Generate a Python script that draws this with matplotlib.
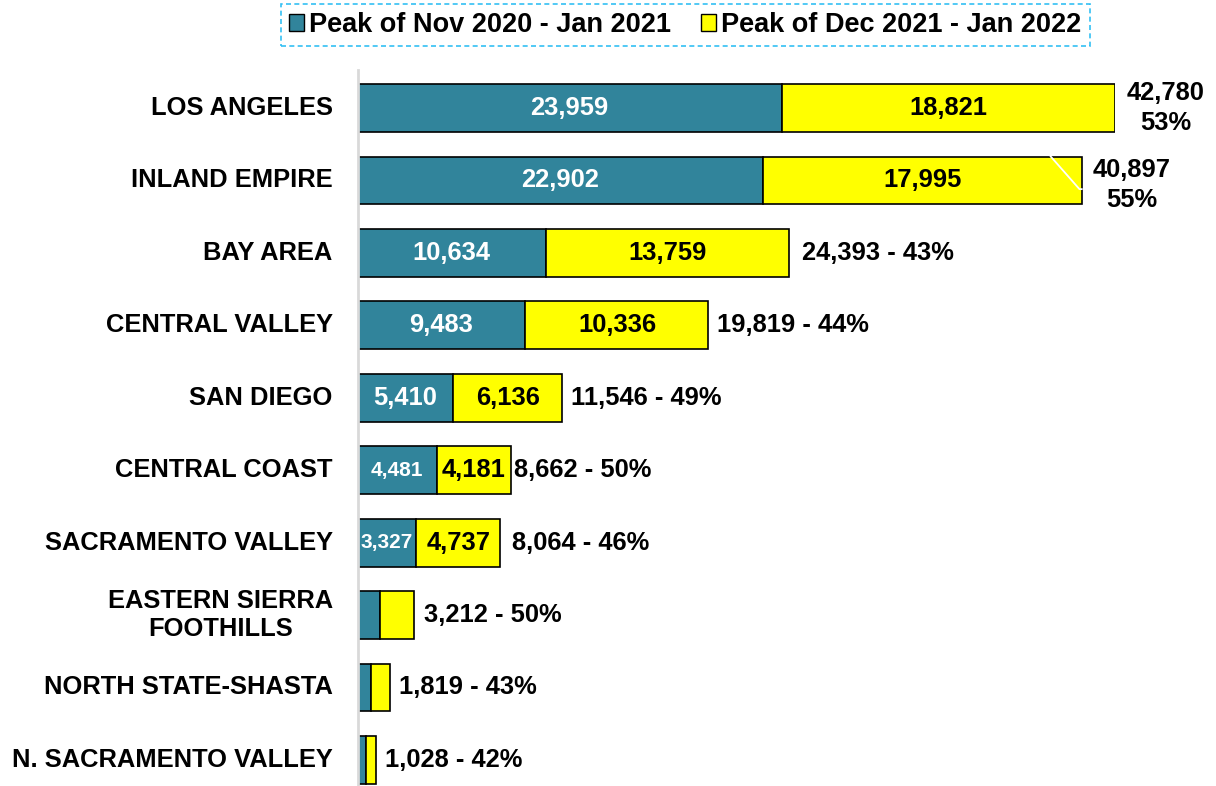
import matplotlib.pyplot as plt
from matplotlib.patches import Patch


class SurgeChart:
    def __init__(self):
        self.regions = ['LOS ANGELES', 'INLAND EMPIRE', 'BAY AREA', 'CENTRAL VALLEY', 'SAN DIEGO',
                        'CENTRAL COAST', 'SACRAMENTO VALLEY', 'EASTERN SIERRA\nFOOTHILLS',
                        'NORTH STATE-SHASTA', 'N. SACRAMENTO VALLEY']
        self.first_peak = [23959, 22902, 10634, 9483, 5410, 4481, 3327, 1250, 735, 452]
        self.second_peak = [18821, 17995, 13759, 10336, 6136, 4181, 4737, 1962, 1084, 576]
        self.totals = [42780, 40897, 24393, 19819, 11546, 8662, 8064, 3212, 1819, 1028]
        self.percents = [53, 55, 43, 44, 49, 50, 46, 50, 43, 42]
        self.label_gap = [2850, 2800, 700, 500, 500, 150, 650, 550, 500, 500]
        self.colors = ['#31849B', '#FFFF00']

        self.plot_chart()

    def plot_chart(self):
        plt.rcParams['font.family'] = ['Liberation Sans', 'DejaVu Sans']
        plt.rcParams['font.weight'] = 'bold'
        plt.figure(figsize=(12.16, 7.86), dpi=100)
        ax = plt.axes([0.294, 0.0, 0.623, 0.911])

        pos = list(range(len(self.regions)))
        fs = 18.4

        # barras empilhadas
        plt.barh(pos, self.first_peak, height=0.66, color=self.colors[0], edgecolor='black', linewidth=1.2)
        plt.barh(pos, self.second_peak, height=0.66, left=self.first_peak, color=self.colors[1],
                 edgecolor='black', linewidth=1.2)

        plt.xlim(0, 42780)
        plt.ylim(9.36, -0.525)
        plt.xticks([])
        plt.yticks([])
        for side in ['top', 'right', 'bottom']:
            ax.spines[side].set_visible(False)
        ax.spines['left'].set_color('#D9D9D9')
        ax.spines['left'].set_linewidth(2)

        # linha guia branca do rótulo (Inland Empire)
        plt.plot([40897 - 1750, 40897 - 130, 40897], [0.67, 1.12, 1.12], color='white', linewidth=1.3)

        # rótulos das regiões
        for i, name in enumerate(self.regions):
            plt.text(-1400, i, name, ha='right', va='center', multialignment='center',
                     fontsize=fs, fontweight='bold')

        # valores dentro das barras
        for i in range(len(self.regions)):
            a = self.first_peak[i]
            b = self.second_peak[i]
            if i < 7:
                size_a = fs if a > 5000 else 15
                plt.text(a / 2, i, f'{a:,}', ha='center', va='center', color='white',
                         fontsize=size_a, fontweight='bold')
                plt.text(a + b / 2, i, f'{b:,}', ha='center', va='center', color='black',
                         fontsize=fs, fontweight='bold')

        # totais
        for i, total in enumerate(self.totals):
            if i < 2:
                plt.text(total + self.label_gap[i], i + 0.06 * i, f'{total:,}\n{self.percents[i]}%',
                         ha='center', va='center', fontsize=fs, fontweight='bold', linespacing=1.3)
            else:
                plt.text(total + self.label_gap[i], i, f'{total:,} - {self.percents[i]}%', ha='left',
                         va='center', fontsize=fs, fontweight='bold')

        handles = [Patch(facecolor=self.colors[0], edgecolor='black'),
                   Patch(facecolor=self.colors[1], edgecolor='black')]
        leg = plt.figlegend(handles, ['Peak of Nov 2020 - Jan 2021', 'Peak of Dec 2021 - Jan 2022'],
                            loc='center', bbox_to_anchor=(0.5635, 0.968), ncol=2, fontsize=19.5,
                            frameon=True, fancybox=False, handlelength=0.55, handleheight=0.55,
                            handletextpad=0.2, columnspacing=1.1, borderpad=0.3)
        frame = leg.get_frame()
        frame.set_edgecolor('#00B0F0')
        frame.set_linestyle((0, (3, 2)))
        frame.set_linewidth(1.2)

        plt.savefig('out.png', dpi=100)


if __name__ == "__main__":
    SurgeChart()
